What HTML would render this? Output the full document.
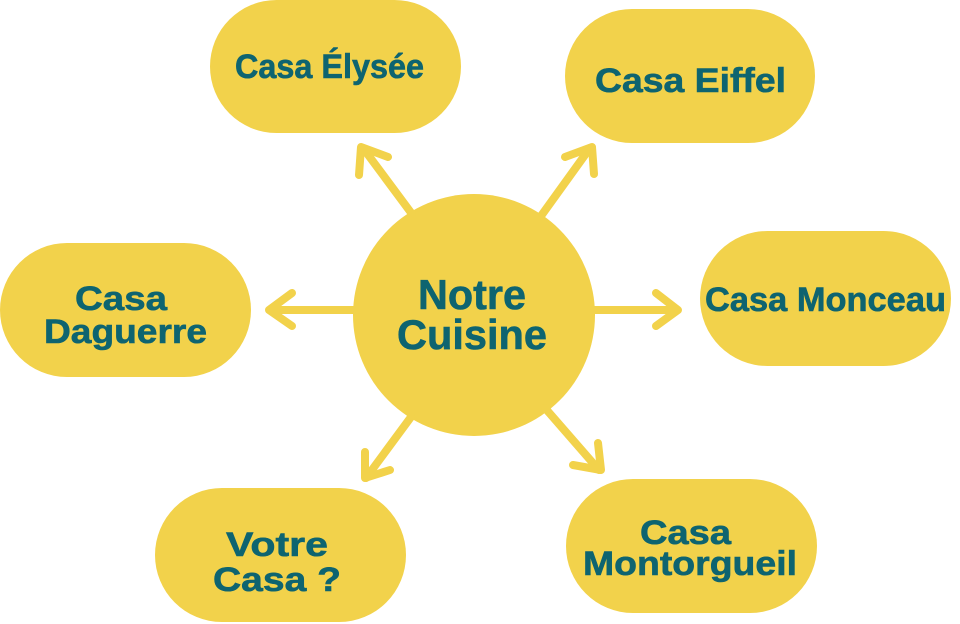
<!DOCTYPE html>
<html><head><meta charset="utf-8"><style>
html,body{margin:0;padding:0;background:#fff;}
svg{display:block;}
text{font-family:"Liberation Sans",sans-serif;font-weight:bold;fill:#0E6470;stroke:#0E6470;stroke-width:0.6;}
</style></head><body>
<svg width="960" height="624" viewBox="0 0 960 624" xmlns="http://www.w3.org/2000/svg">
<g fill="#F2D24B">
<rect x="210" y="0" width="251" height="133" rx="66.5"/>
<rect x="565" y="9" width="250" height="134" rx="67"/>
<rect x="0" y="243" width="251" height="134" rx="67"/>
<rect x="700" y="231" width="251" height="135" rx="67.5"/>
<rect x="155" y="488" width="251" height="134" rx="67"/>
<rect x="566" y="479" width="251" height="134" rx="67"/>
<circle cx="474" cy="315" r="121"/>
</g>
<g stroke="#F2D24B" stroke-width="8" stroke-linecap="round" stroke-linejoin="round" fill="none">
<line x1="412" y1="214" x2="363" y2="148"/><polyline points="359,175 361,147 388,157"/>
<line x1="541" y1="216" x2="590" y2="148"/><polyline points="565,157 592,147 594,174"/>
<line x1="354" y1="310" x2="270" y2="310"/><polyline points="292,293 269,310 292,326"/>
<line x1="594" y1="310" x2="676" y2="310"/><polyline points="656,293 678,310 656,326"/>
<line x1="411" y1="417" x2="366" y2="478"/><polyline points="365,452 365,478 390,470"/>
<line x1="545" y1="408" x2="599" y2="470"/><polyline points="598,443 601,470 573,465"/>
</g>
<text x="235" y="78" font-size="34" textLength="189" lengthAdjust="spacingAndGlyphs">Casa Élysée</text>
<text x="595" y="92" font-size="34" textLength="191" lengthAdjust="spacingAndGlyphs">Casa Eiffel</text>
<text x="705" y="311" font-size="34" textLength="241" lengthAdjust="spacingAndGlyphs">Casa Monceau</text>
<text x="75" y="310" font-size="34" textLength="92" lengthAdjust="spacingAndGlyphs">Casa</text>
<text x="44" y="343" font-size="34" textLength="163" lengthAdjust="spacingAndGlyphs">Daguerre</text>
<text x="226" y="556" font-size="34" textLength="102" lengthAdjust="spacingAndGlyphs">Votre</text>
<text x="213" y="591" font-size="34" textLength="128" lengthAdjust="spacingAndGlyphs">Casa ?</text>
<text x="640" y="544" font-size="34" textLength="91" lengthAdjust="spacingAndGlyphs">Casa</text>
<text x="583" y="575" font-size="34" textLength="214" lengthAdjust="spacingAndGlyphs">Montorgueil</text>
<text x="418" y="309" font-size="42" textLength="108" lengthAdjust="spacingAndGlyphs">Notre</text>
<text x="397" y="349" font-size="42" textLength="150" lengthAdjust="spacingAndGlyphs">Cuisine</text>
</svg>
</body></html>
